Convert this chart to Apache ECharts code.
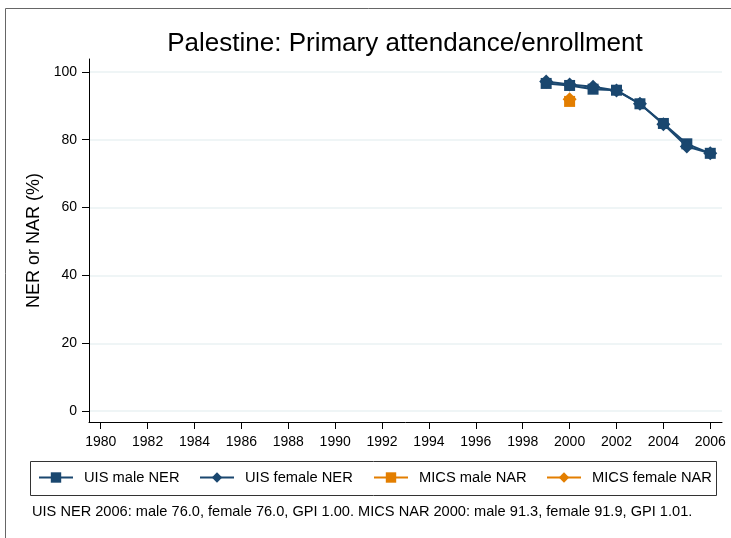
<!DOCTYPE html>
<html>
<head>
<meta charset="utf-8">
<title>Palestine: Primary attendance/enrollment</title>
<script src="https://cdn.jsdelivr.net/npm/echarts@6/dist/echarts.min.js"></script>
<style>
  html, body { margin: 0; padding: 0; background: #fff; }
  #chart { width: 731px; height: 538px; }
</style>
</head>
<body>
<div id="chart"></div>
<script>
// data
var years = [1999, 2000, 2001, 2002, 2003, 2004, 2005, 2006];
var uisMale = [96.6, 96.0, 94.9, 94.6, 90.6, 84.8, 78.8, 76.0];
var uisFemale = [97.2, 96.3, 95.6, 94.5, 90.6, 84.6, 78.0, 76.0];
var micsYears = [2000];
var micsMale = [91.3];
var micsFemale = [91.9];
var xTicks = [1980, 1982, 1984, 1986, 1988, 1990, 1992, 1994, 1996, 1998, 2000, 2002, 2004, 2006];
var yTicks = [0, 20, 40, 60, 80, 100];

var navy = "#1a476f";
var orange = "#e37e00";
var font = "Liberation Sans, Arial, Helvetica, sans-serif";

function pairs(xs, ys) {
  return xs.map(function (x, i) { return [x, ys[i]]; });
}

var chart = echarts.init(document.getElementById("chart"));

// legend entries sit in a shared box, each placed on its own
function legendAt(name, left) {
  return {
    data: [name],
    left: left,
    top: 470,
    itemWidth: 34,
    itemHeight: 13,
    padding: 0,
    lineStyle: { type: "solid" },
    textStyle: { fontFamily: font, fontSize: 14.7, color: "#000", padding: [0, 0, 0, 6] }
  };
}

var option = {
  animation: false,
  backgroundColor: "#fff",
  grid: { left: 89, right: 9, top: 59, bottom: 116, containLabel: false },
  xAxis: {
    type: "value",
    min: 1979.5,
    max: 2006.5,
    axisLine: { show: true, onZero: false, lineStyle: { color: "#000", width: 1 } },
    axisTick: { show: true, length: 7, customValues: xTicks, lineStyle: { color: "#000" } },
    axisLabel: {
      customValues: xTicks, margin: 13, fontFamily: font, fontSize: 14, color: "#000",
      formatter: function (v) { return String(v); }
    },
    splitLine: { show: false }
  },
  yAxis: {
    type: "value",
    min: -3.2,
    max: 103.8,
    name: "NER or NAR (%)",
    nameLocation: "middle",
    nameGap: 42,
    nameTextStyle: { fontFamily: font, fontSize: 18, color: "#000" },
    axisLine: { show: true, onZero: false, lineStyle: { color: "#000", width: 1 } },
    axisTick: { show: true, length: 7, customValues: yTicks, lineStyle: { color: "#000" } },
    axisLabel: { customValues: yTicks, margin: 12, fontFamily: font, fontSize: 14, color: "#000" },
    splitLine: { show: true, lineStyle: { color: "#eaf2f3", width: 1.5 } }
  },
  legend: [
    legendAt("UIS male NER", 38),
    legendAt("UIS female NER", 199),
    legendAt("MICS male NAR", 373),
    legendAt("MICS female NAR", 546)
  ],
  graphic: [
    { type: "rect", shape: { x: 5.5, y: 8.5, width: 740, height: 540 },
      style: { fill: null, stroke: "#666", lineWidth: 1 }, silent: true },
    { type: "rect", shape: { x: 30.5, y: 461.5, width: 686, height: 34 },
      style: { fill: null, stroke: "#333", lineWidth: 1 }, silent: true },
    { type: "text", x: 405, y: 44,
      style: { text: "Palestine: Primary attendance/enrollment", fontFamily: font, fontSize: 26,
               fill: "#000", textAlign: "center", textVerticalAlign: "middle" } },
    { type: "text", x: 32, y: 512,
      style: { text: "UIS NER 2006: male 76.0, female 76.0, GPI 1.00. MICS NAR 2000: male 91.3, female 91.9, GPI 1.01.",
               fontFamily: font, fontSize: 14.6, fill: "#000", textVerticalAlign: "middle" } }
  ],
  series: [
    {
      name: "UIS male NER",
      type: "line",
      data: pairs(years, uisMale),
      symbol: "rect",
      symbolSize: 11,
      itemStyle: { color: navy },
      lineStyle: { color: navy, width: 2 }
    },
    {
      name: "UIS female NER",
      type: "line",
      data: pairs(years, uisFemale),
      symbol: "diamond",
      symbolSize: 14,
      itemStyle: { color: navy },
      lineStyle: { color: navy, width: 2 }
    },
    {
      name: "MICS male NAR",
      type: "line",
      data: pairs(micsYears, micsMale),
      symbol: "rect",
      symbolSize: 11,
      itemStyle: { color: orange },
      lineStyle: { color: orange, width: 2, type: "dotted" }
    },
    {
      name: "MICS female NAR",
      type: "line",
      data: pairs(micsYears, micsFemale),
      symbol: "diamond",
      symbolSize: 14,
      itemStyle: { color: orange },
      lineStyle: { color: orange, width: 2, type: "dotted" }
    }
  ]
};

chart.setOption(option);
</script>
</body>
</html>
